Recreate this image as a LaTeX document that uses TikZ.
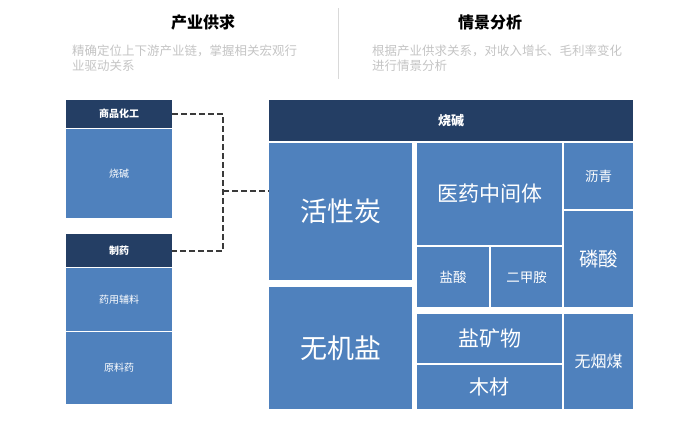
\documentclass[tikz,border=0pt]{standalone}
\usepackage{fontspec}
\setmainfont{Noto Sans CJK SC}
\usetikzlibrary{positioning}
\definecolor{navy}{HTML}{243E64}
\definecolor{tileblue}{HTML}{4F81BD}
\definecolor{subgray}{HTML}{C4C4C4}
\definecolor{linkgray}{HTML}{3A3A3A}
\tikzset{
  hd/.style={fill=navy,text=white,anchor=north west,inner sep=0,outer sep=0,font=\bfseries\fontsize{10}{10}\selectfont},
  tile/.style={fill=tileblue,text=white,anchor=north west,inner sep=0,outer sep=0,font=\fontsize{10}{10}\selectfont},
  link/.style={linkgray,line width=2pt,dash pattern=on 6pt off 3pt}
}
\begin{document}
\begin{tikzpicture}[x=1pt,y=-1pt]
    \useasboundingbox (0,0) rectangle (700,440);
    % top headings
    \node[font=\bfseries\fontsize{16}{16}\selectfont] (supply) at (203,22) {产业供求};
    \node[font=\bfseries\fontsize{16}{16}\selectfont] (scene) at (490,22) {情景分析};
    \node[anchor=north west,inner sep=0,text=subgray,align=left,font=\fontsize{12.5}{15}\selectfont] (supplytxt) at (72,45) {精确定位上下游产业链，掌握相关宏观行\\业驱动关系};
    \node[anchor=north west,inner sep=0,text=subgray,align=left,font=\fontsize{12.5}{15}\selectfont] (scenetxt) at (372,45) {根据产业供求关系，对收入增长、毛利率变化\\进行情景分析};
    \draw[gray!30] (338,8)--(338,79);
    % left column
    \node[hd,minimum width=106,minimum height=28] (chemhd) at (66,100) {商品化工};
    \node[tile,minimum width=106,minimum height=89] (caustic) at (66,129) {烧碱};
    \node[hd,minimum width=106,minimum height=33] (pharmhd) at (66,234) {制药};
    \node[tile,minimum width=106,minimum height=63] (excip) at (66,268) {药用辅料};
    \node[tile,minimum width=106,minimum height=72] (api) at (66,332) {原料药};
    % treemap
    \node[hd,minimum width=364,minimum height=41,font=\bfseries\fontsize{13}{13}\selectfont] (caushd) at (269,100) {烧碱};
    \node[tile,minimum width=143,minimum height=137,font=\fontsize{27}{27}\selectfont] (carbon) at (269,143) {活性炭};
    \node[tile,minimum width=143,minimum height=122,font=\fontsize{27}{27}\selectfont] (salt) at (269,287) {无机盐};
    \node[tile,minimum width=145,minimum height=102,font=\fontsize{21}{21}\selectfont] (medint) at (417,143) {医药中间体};
    \node[tile,minimum width=72,minimum height=60,font=\fontsize{13.5}{13.5}\selectfont] (hcl) at (417,247) {盐酸};
    \node[tile,minimum width=71,minimum height=60,font=\fontsize{13.5}{13.5}\selectfont] (dma) at (491,247) {二甲胺};
    \node[tile,minimum width=69,minimum height=66,font=\fontsize{13.5}{13.5}\selectfont] (pitch) at (564,143) {沥青};
    \node[tile,minimum width=69,minimum height=96,font=\fontsize{19.5}{19.5}\selectfont] (phos) at (564,211) {磷酸};
    \node[tile,minimum width=145,minimum height=49,font=\fontsize{21}{21}\selectfont] (mineral) at (417,314) {盐矿物};
    \node[tile,minimum width=145,minimum height=44,font=\fontsize{20}{20}\selectfont] (wood) at (417,365) {木材};
    \node[tile,minimum width=69,minimum height=95,font=\fontsize{16}{16}\selectfont] (coal) at (564,314) {无烟煤};
    % dashed link
    \coordinate (joint) at (223,191);
    \draw[link] (chemhd.east) -| (joint) |- (pharmhd.east);
    \draw[link] (joint) -- (joint -| carbon.west);
\end{tikzpicture}
\end{document}
